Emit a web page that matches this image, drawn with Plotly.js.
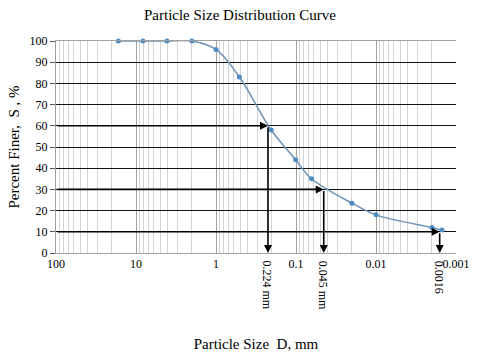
<!DOCTYPE html>
<html><head><meta charset="utf-8">
<script src="https://cdn.plot.ly/plotly-3.0.1.min.js"></script>
<style>html,body{margin:0;padding:0;background:#fff}#chart{width:480px;height:360px}</style>
</head><body><div id="chart"></div>
<script>
const sizeMm = [16.6, 8.2, 4.1, 2.0, 1.0, 0.51, 0.204, 0.101, 0.064, 0.020, 0.010, 0.0020, 0.0015];
const percentFiner = [100, 100, 100, 100, 96, 83, 58, 44, 35, 23.5, 18, 12, 10.8];
const xTickVals = [100, 10, 1, 0.1, 0.01, 0.001];
const xTickText = ['100', '10', '1', '0.1', '0.01', '0.001'];
const yTickVals = [0, 10, 20, 30, 40, 50, 60, 70, 80, 90, 100];
const markSizes = [0.224, 0.045, 0.0016];
const markPercents = [60, 30, 10];
const markLabels = ['0.224 mm', '0.045 mm', '0.0016'];

const serif = 'Liberation Serif';
const annotations = [];
for (let i = 0; i < markSizes.length; i++) {
  const lx = Math.log10(markSizes[i]);
  annotations.push({x: lx, y: markPercents[i], ax: 2, ay: markPercents[i], xref: 'x', yref: 'y', axref: 'x', ayref: 'y',
    showarrow: true, arrowhead: 2, arrowsize: 1, arrowwidth: 1.6, arrowcolor: '#000', text: ''});
  annotations.push({x: lx, y: 0, ax: lx, ay: markPercents[i], xref: 'x', yref: 'y', axref: 'x', ayref: 'y',
    showarrow: true, arrowhead: 2, arrowsize: 1, arrowwidth: 1.6, arrowcolor: '#000', text: ''});
  annotations.push({x: lx, y: 0, xref: 'x', yref: 'y', yshift: -6, yanchor: 'top', showarrow: false,
    text: markLabels[i], textangle: 90, font: {family: serif, size: 12, color: '#000'}});
}

const trace = {
  x: sizeMm, y: percentFiner, type: 'scatter', mode: 'lines+markers',
  line: {shape: 'spline', color: '#6f93b8', width: 1.5},
  marker: {color: '#4f8cc4', size: 5},
  cliponaxis: false
};

const layout = {
  width: 480, height: 360,
  margin: {l: 56, r: 24, t: 41, b: 107},
  paper_bgcolor: '#fff', plot_bgcolor: '#fff',
  showlegend: false,
  title: {text: 'Particle Size Distribution Curve', font: {family: serif, size: 15, color: '#000'}, x: 0.5, xanchor: 'center', y: 0.96, yanchor: 'middle'},
  xaxis: {
    type: 'log', range: [2, -3], tickvals: xTickVals, ticktext: xTickText,
    showgrid: true, gridcolor: '#a0a0a0', gridwidth: 1,
    minor: {dtick: 'D1', showgrid: true, gridcolor: '#d4d4d4', gridwidth: 1, ticks: ''},
    ticks: '', showline: true, linecolor: '#a0a0a0', mirror: true, zeroline: false,
    tickfont: {family: serif, size: 12, color: '#000'},
    title: {text: 'Particle Size  D, mm', font: {family: serif, size: 15, color: '#000'}, standoff: 68}
  },
  yaxis: {
    range: [0, 100], tickvals: yTickVals, showgrid: true, gridcolor: '#111', gridwidth: 1,
    ticks: 'outside', ticklen: 5, tickcolor: '#555', showline: true, linecolor: '#a0a0a0', zeroline: false,
    tickfont: {family: serif, size: 12, color: '#000'},
    title: {text: 'Percent Finer,  S , %', font: {family: serif, size: 15, color: '#000'}, standoff: 6}
  },
  annotations: annotations
};
Plotly.newPlot('chart', [trace], layout, {staticPlot: true, displayModeBar: false});
</script></body></html>
